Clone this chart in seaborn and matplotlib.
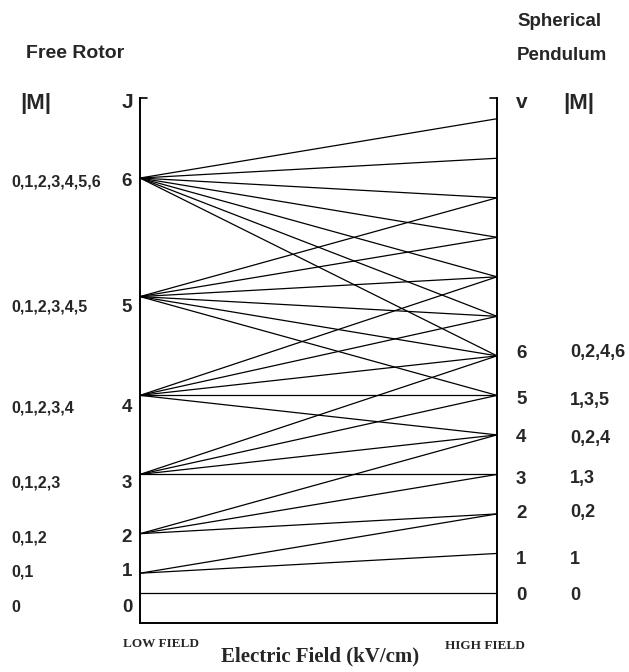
import pandas as pd
import matplotlib
matplotlib.use("Agg")
import matplotlib.pyplot as plt
import seaborn as sns

# levels (energy in arbitrary units, zero at J=0 / v=0)
J_levels = [0, 1, 2, 3, 4, 5, 6]
rotor_energy = [0, 2, 6, 12, 20, 30, 42]
rotor_M = ["0", "0,1", "0,1,2", "0,1,2,3", "0,1,2,3,4", "0,1,2,3,4,5", "0,1,2,3,4,5,6"]

v_levels = [0, 1, 2, 3, 4, 5, 6, 7, 8, 9, 10, 11, 12]
pendulum_energy = [0, 4, 8, 12, 16, 20, 24, 28, 32, 36, 40, 44, 48]
pendulum_M = ["0", "1", "0,2", "1,3", "0,2,4", "1,3,5", "0,2,4,6"]

# which pendulum level v each rotor level J goes to
links = {
    0: [0],
    1: [1, 2],
    2: [2, 3, 4],
    3: [3, 4, 5, 6],
    4: [4, 5, 6, 7, 8],
    5: [5, 6, 7, 8, 9, 10],
    6: [6, 7, 8, 9, 10, 11, 12],
}

rows = []
for J, vs in links.items():
    for v in vs:
        name = f"J{J}-v{v}"
        rows.append({"link": name, "field": 0.0, "energy": rotor_energy[J]})
        rows.append({"link": name, "field": 1.0, "energy": pendulum_energy[v]})
df = pd.DataFrame(rows)

sns.set_style("white")
plt.rcParams["font.family"] = ["Liberation Sans", "DejaVu Sans"]

W, H = 629, 672
fig = plt.figure(figsize=(W / 100, H / 100), dpi=100)
ax = fig.add_axes([140 / W, (H - 623) / H, (497 - 140) / W, (623 - 98) / H])

sns.lineplot(data=df, x="field", y="energy", units="link", estimator=None,
             color="black", linewidth=0.9, ax=ax, legend=False)

ax.set_xlim(0, 1)
ax.set_ylim(-3.04, 50.1)
ax.set_xticks([])
ax.set_yticks([])
ax.set_xlabel("")
ax.set_ylabel("")
for side in ["left", "right", "bottom"]:
    ax.spines[side].set_color("black")
    ax.spines[side].set_linewidth(1.4)
ax.spines["top"].set_visible(False)
# little stubs at the top corners
ax.plot([0, 0.02], [1, 1], transform=ax.transAxes, color="black", lw=1.2, clip_on=False)
ax.plot([0.98, 1], [1, 1], transform=ax.transAxes, color="black", lw=1.2, clip_on=False)


def put(x, y, s, **kw):
    fig.text(x / W, 1 - y / H, s, va="center", fontweight="bold", **kw)


# headers
put(26, 54, "Free Rotor", fontsize=14)
put(20, 103, "|M|", fontsize=16)
put(127, 103, "J", fontsize=15, ha="center")
put(517, 22, "Spherical", fontsize=13.5)
put(517, 56, "Pendulum", fontsize=13.5)
put(522, 103, "v", fontsize=15, ha="center")
put(563, 103, "|M|", fontsize=16)

# left labels (J and |M|)
J_label_y = [607, 572, 538, 483, 408, 307, 182]
for J, m, y in zip(J_levels, rotor_M, J_label_y):
    put(127, y, str(J), fontsize=13.5, ha="center")
    put(11, y, m, fontsize=11.5)

# right labels (v and |M|)
v_label_y = [595, 559, 513, 479, 438, 400, 353]
for v, m, y in zip(v_levels[:7], pendulum_M, v_label_y):
    put(516, y, str(v), fontsize=13.5)
    put(570, y, m, fontsize=13)

# bottom
serif = ["Liberation Serif", "DejaVu Serif"]
put(123, 644, "LOW FIELD", fontsize=9.5, family=serif)
put(445, 646, "HIGH FIELD", fontsize=9.5, family=serif)
put(320, 656, "Electric Field (kV/cm)", fontsize=15, ha="center", family=serif)

fig.savefig("out.png", dpi=100)
